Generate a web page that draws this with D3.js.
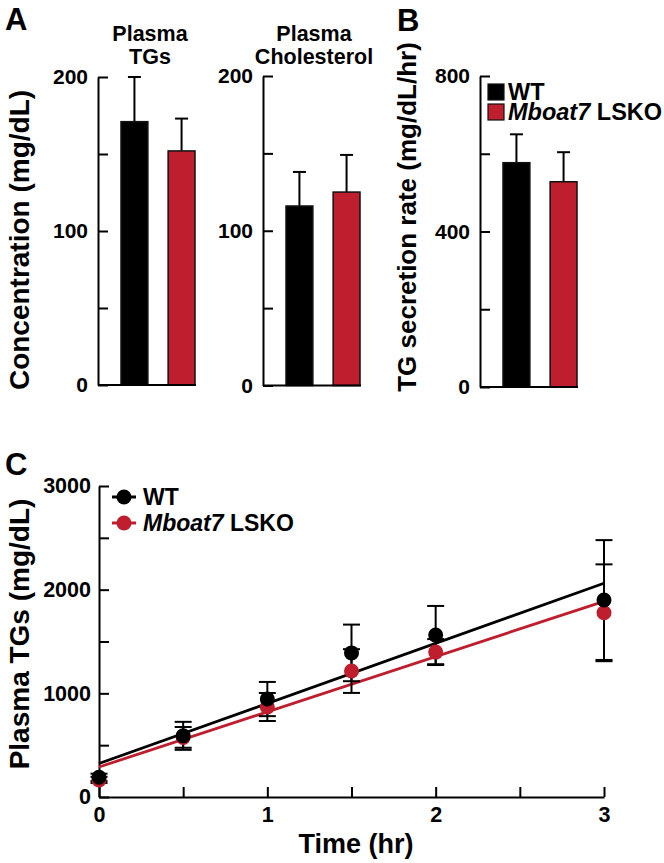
<!DOCTYPE html>
<html>
<head>
<meta charset="utf-8">
<script src="https://cdn.jsdelivr.net/npm/d3@7"></script>
<style>
  html, body { margin: 0; padding: 0; background: #fff; }
  svg text { font-family: "Liberation Sans", Arial, Helvetica, sans-serif; font-weight: bold; fill: #000; }
</style>
</head>
<body>
<svg id="chart" width="664" height="863"></svg>
<script>
// ---------- Data ----------
const groups = ["WT", "Mboat7 LSKO"];
const tgMean = [171, 152];
const tgSem = [29, 21];
const cholMean = [116, 125];
const cholSem = [22, 24];
const secMean = [577, 528];
const secSem = [73, 76];

const times = [0, 0.5, 1, 1.5, 2, 3];
const wtMean = [190, 590, 945, 1390, 1562, 1900];
const wtSem = [35, 135, 165, 273, 281, 578];
const koMean = [165, 575, 868, 1215, 1398, 1777];
const koSem = [30, 100, 135, 211, 125, 467];

const concTicks = [0, 50, 100, 150, 200];
const concLabels = [0, 100, 200];
const secTicks = [0, 200, 400, 600, 800];
const secLabels = [0, 400, 800];
const tgTicks = [0, 500, 1000, 1500, 2000, 2500, 3000];
const tgLabels = [0, 1000, 2000, 3000];
const timeTicks = [0, 0.5, 1, 1.5, 2, 2.5, 3];
const timeLabels = [0, 1, 2, 3];

const colors = ["#000000", "#be1e2d"];

// ---------- Drawing ----------
const svg = d3.select("#chart");

function yAxis(g, scale, ticks, labels, fontSize, pad) {
  const ax = d3.axisLeft(scale)
    .tickValues(ticks)
    .tickSizeInner(-10)
    .tickSizeOuter(0)
    .tickPadding(pad)
    .tickFormat(d => labels.includes(d) ? String(d) : "");
  g.call(ax);
  g.attr("font-family", null).attr("font-size", null);
  g.select(".domain").attr("stroke", "#000").attr("stroke-width", 2);
  g.selectAll(".tick line").attr("stroke", "#000").attr("stroke-width", 2);
  g.selectAll(".tick text").style("font-size", fontSize + "px");
}

function barPanel(opts) {
  const { axisX, y0, y1, max, ticks, labels, means, sems } = opts;
  const y = d3.scaleLinear().domain([0, max]).range([y0, y1]);
  const x = d3.scaleBand().domain(groups).range([axisX + 23, axisX + 97]).paddingInner(0.43).paddingOuter(0);
  const g = svg.append("g");
  groups.forEach((grp, i) => {
    const cx = x(grp) + x.bandwidth() / 2;
    g.append("line").attr("x1", cx).attr("x2", cx)
      .attr("y1", y(means[i])).attr("y2", y(means[i] + sems[i]))
      .attr("stroke", "#000").attr("stroke-width", 2);
    g.append("line").attr("x1", cx - 6.5).attr("x2", cx + 6.5)
      .attr("y1", y(means[i] + sems[i])).attr("y2", y(means[i] + sems[i]))
      .attr("stroke", "#000").attr("stroke-width", 2);
  });
  g.selectAll("rect.bar").data(groups).join("rect")
    .attr("class", "bar")
    .attr("x", d => x(d))
    .attr("width", x.bandwidth())
    .attr("y", (d, i) => y(means[i]))
    .attr("height", (d, i) => y(0) - y(means[i]))
    .attr("fill", (d, i) => colors[i])
    .attr("stroke", "#111")
    .attr("stroke-width", 1.5);
  g.append("line").attr("x1", axisX).attr("x2", x.range()[1] + 1)
    .attr("y1", y(0)).attr("y2", y(0)).attr("stroke", "#000").attr("stroke-width", 2);
  const ga = g.append("g").attr("transform", `translate(${axisX},0)`);
  yAxis(ga, y, ticks, labels, 21, 10);
  return { x, y };
}

barPanel({ axisX: 98, y0: 385, y1: 77, max: 200, ticks: concTicks, labels: concLabels, means: tgMean, sems: tgSem });
barPanel({ axisX: 263, y0: 385.5, y1: 76, max: 200, ticks: concTicks, labels: concLabels, means: cholMean, sems: cholSem });
barPanel({ axisX: 480, y0: 387, y1: 76, max: 800, ticks: secTicks, labels: secLabels, means: secMean, sems: secSem });

// Titles
const titleSize = "21.5px";
svg.append("text").attr("x", 150).attr("y", 41).attr("text-anchor", "middle").style("font-size", titleSize).text("Plasma");
svg.append("text").attr("x", 150).attr("y", 64).attr("text-anchor", "middle").style("font-size", titleSize).text("TGs");
svg.append("text").attr("x", 314).attr("y", 41).attr("text-anchor", "middle").style("font-size", titleSize).text("Plasma");
svg.append("text").attr("x", 314).attr("y", 64).attr("text-anchor", "middle").style("font-size", titleSize).text("Cholesterol");

// Y axis labels
svg.append("text").attr("transform", "translate(19,240) rotate(-90)").attr("dy", "0.35em")
  .attr("text-anchor", "middle").style("font-size", "28px").text("Concentration (mg/dL)");
svg.append("text").attr("transform", "translate(407,217) rotate(-90)").attr("dy", "0.35em")
  .attr("text-anchor", "middle").style("font-size", "26px").text("TG secretion rate (mg/dL/hr)");

// Panel letters
svg.append("text").attr("x", 5).attr("y", 30).style("font-size", "31px").text("A");
svg.append("text").attr("x", 397).attr("y", 31).style("font-size", "31px").text("B");
svg.append("text").attr("x", 5).attr("y", 475).style("font-size", "31px").text("C");

// Legend B
const legB = svg.append("g");
groups.forEach((grp, i) => {
  const yy = 84 + i * 20;
  legB.append("rect").attr("x", 488).attr("y", yy).attr("width", 16).attr("height", 16)
    .attr("fill", colors[i]).attr("stroke", "#111").attr("stroke-width", 1.2);
  const t = legB.append("text").attr("x", 508).attr("y", yy + 16).style("font-size", "23.5px");
  if (i === 0) t.text("WT");
  else { t.append("tspan").attr("font-style", "italic").text("Mboat7"); t.append("tspan").text(" LSKO"); }
});

// ---------- Panel C ----------
const xC = d3.scaleLinear().domain([0, 3]).range([99, 604]);
const yC = d3.scaleLinear().domain([0, 3000]).range([797, 486]);
const gC = svg.append("g");

function linFit(xs, ys) {
  const mx = d3.mean(xs), my = d3.mean(ys);
  let sxy = 0, sxx = 0;
  xs.forEach((xv, i) => { sxy += (xv - mx) * (ys[i] - my); sxx += (xv - mx) ** 2; });
  const b = sxy / sxx;
  return { a: my - b * mx, b };
}

const series = [
  { name: groups[1], mean: koMean, sem: koSem, color: colors[1] },
  { name: groups[0], mean: wtMean, sem: wtSem, color: colors[0] }
];

const gx = gC.append("g").attr("transform", "translate(0,797)");
gx.call(d3.axisBottom(xC).tickValues(timeTicks).tickSizeInner(-10).tickSizeOuter(0).tickPadding(10)
  .tickFormat(d => timeLabels.includes(d) ? String(d) : ""));
gx.attr("font-family", null).attr("font-size", null);
gx.select(".domain").attr("stroke", "#000").attr("stroke-width", 2);
gx.selectAll(".tick line").attr("stroke", "#000").attr("stroke-width", 2);
gx.selectAll(".tick text").style("font-size", "21.5px");

const gy = gC.append("g").attr("transform", "translate(99,0)");
yAxis(gy, yC, tgTicks, tgLabels, 21.5, 8);

series.forEach(s => {
  const f = linFit(times, s.mean);
  const x0 = d3.min(times), x1 = d3.max(times);
  gC.append("line")
    .attr("x1", xC(x0)).attr("y1", yC(f.a + f.b * x0))
    .attr("x2", xC(x1)).attr("y2", yC(f.a + f.b * x1))
    .attr("stroke", s.color).attr("stroke-width", 2.8);
});

series.forEach(s => {
  times.forEach((t, i) => {
    const cx = xC(t), hi = yC(s.mean[i] + s.sem[i]), lo = yC(s.mean[i] - s.sem[i]);
    gC.append("line").attr("x1", cx).attr("x2", cx).attr("y1", hi).attr("y2", lo).attr("stroke", "#000").attr("stroke-width", 2);
    [hi, lo].forEach(yy => gC.append("line").attr("x1", cx - 8.5).attr("x2", cx + 8.5).attr("y1", yy).attr("y2", yy).attr("stroke", "#000").attr("stroke-width", 2));
  });
});

series.forEach(s => {
  gC.selectAll(null).data(times).join("circle")
    .attr("cx", d => xC(d))
    .attr("cy", (d, i) => yC(s.mean[i]))
    .attr("r", 7.5)
    .attr("fill", s.color);
});

[{ i: 0, y: 497 }, { i: 1, y: 523 }].forEach(({ i, y }) => {
  gC.append("line").attr("x1", 112).attr("x2", 136).attr("y1", y).attr("y2", y).attr("stroke", colors[i]).attr("stroke-width", 3);
  gC.append("circle").attr("cx", 124).attr("cy", y).attr("r", 7.5).attr("fill", colors[i]);
  const t = gC.append("text").attr("x", 143).attr("y", y + 8).style("font-size", "23px");
  if (i === 0) t.text("WT");
  else { t.append("tspan").attr("font-style", "italic").text("Mboat7"); t.append("tspan").text(" LSKO"); }
});

svg.append("text").attr("transform", "translate(19,634) rotate(-90)").attr("dy", "0.35em")
  .attr("text-anchor", "middle").style("font-size", "28px").text("Plasma TGs (mg/dL)");
svg.append("text").attr("x", 356).attr("y", 853).attr("text-anchor", "middle").style("font-size", "27px").text("Time (hr)");
</script>
</body>
</html>
